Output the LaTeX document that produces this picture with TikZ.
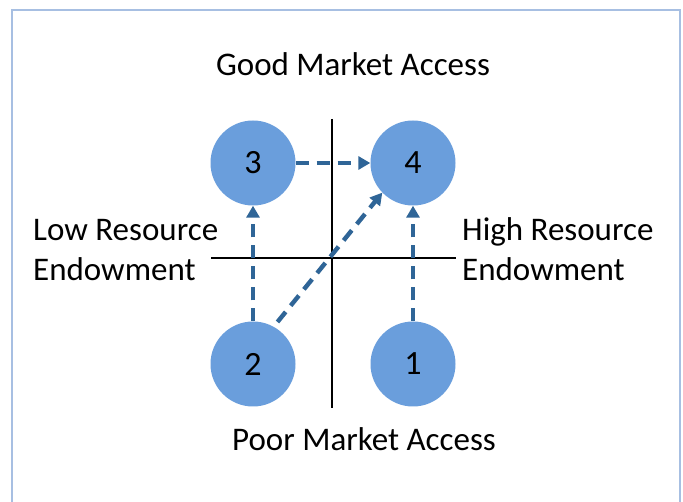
\documentclass[tikz,border=0pt]{standalone}
\usepackage{fontspec}
\setmainfont{Carlito}
\usetikzlibrary{arrows.meta,calc}
\definecolor{frameblue}{HTML}{A7BFE2}
\definecolor{discblue}{HTML}{6A9EDC}
\definecolor{arrowblue}{HTML}{2F6597}
\tikzset{
  disc/.style={circle, fill=discblue, minimum size=85pt, inner sep=0pt, font=\fontsize{34}{34}\selectfont},
  label/.style={font=\fontsize{33}{40}\selectfont, inner sep=0pt},
  axis/.style={line width=1.3pt, black},
  move/.style={line width=4.4pt, arrowblue, dash pattern=on 13pt off 8pt,
    -{Triangle[length=12pt,width=13pt]}},
}
\begin{document}
\begin{tikzpicture}[x=1pt,y=-1pt]
\useasboundingbox (0,0) rectangle (683,502);
\fill[white] (0,0) rectangle (683,502);
% open frame running off the bottom edge
\draw[frameblue, line width=1.6pt] (12,502) -- (12,10) -- (680,10) -- (680,502);

% quadrant axes
\coordinate (vtop) at (332,119);
\coordinate (vbot) at (332,408);
\coordinate (hl) at (211,258);
\coordinate (hr) at (456,258);
\draw[axis] (vtop) -- (vbot);
\draw[axis] (hl) -- (hr);

% quadrant discs
\node[disc] (q3) at (253,163) {3};
\node[disc] (q4) at (413,163) {4};
\node[disc] (q2) at (253,364) {2};
\node[disc] (q1) at (413,364) {1};

% axis captions
\node[label, anchor=base] (good) at (353,76) {Good Market Access};
\node[label, anchor=base] (poor) at (364,451) {Poor Market Access};
\node[label, anchor=base west] (low1) at (33,241) {Low Resource};
\node[label, anchor=base west] (low2) at (33,281) {Endowment};
\node[label, anchor=base west] (high1) at (462,241) {High Resource};
\node[label, anchor=base west] (high2) at (462,281) {Endowment};

% transitions between quadrants
\draw[move] (q3) -- (q4);
\draw[move] (q2) -- (q3);
\draw[move] (q1) -- (q4);
\draw[move, shorten <=6pt] (q2.61) -- (q4.224);
\end{tikzpicture}
\end{document}
